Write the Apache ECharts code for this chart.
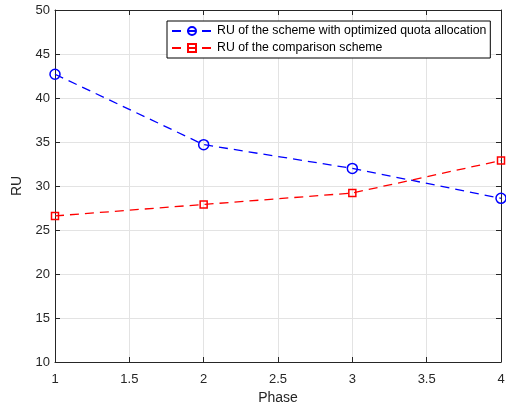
<!DOCTYPE html>
<html lang="en">
<head>
  <meta charset="utf-8">
  <style>
    html, body { margin: 0; padding: 0; background: #fff; }
    #container { width: 506px; height: 407px; }
  </style>
  <title>RU per phase</title>
</head>
<body>
  <div id="container"></div>
  <script type="text/javascript" src="https://fastly.jsdelivr.net/npm/echarts@6.0.0/dist/echarts.min.js"></script>
  <script type="text/javascript">
    // values
    var phases = [1, 2, 3, 4];
    var ruOptimized = [42.7, 34.7, 32.0, 28.6];
    var ruComparison = [26.6, 27.9, 29.2, 32.9];
    var nameOptimized = 'RU of the scheme with optimized quota allocation';
    var nameComparison = 'RU of the comparison scheme';

    var axisColor = '#262626';
    var gridColor = '#e3e3e3';
    var font = 'Helvetica, Arial, "Liberation Sans", sans-serif';

    function pairs(xs, ys) {
      return xs.map(function (x, i) { return [x, ys[i]]; });
    }

    var chart = echarts.init(document.getElementById('container'));

    var tickStyle = { show: true, inside: true, length: 5, lineStyle: { color: axisColor } };

    chart.setOption({
      animation: false,
      grid: { left: 55, right: 5, top: 10, bottom: 45, show: false, outerBoundsMode: 'none' },
      legend: {
        left: 167, top: 21,
        width: 323,
        orient: 'vertical',
        itemWidth: 40, itemHeight: 10, itemGap: 5,
        padding: [4, 4, 4, 4],
        backgroundColor: '#fff',
        borderColor: '#000', borderWidth: 1,
        textStyle: { fontFamily: font, fontSize: 12.3, color: '#000' },
        data: [nameOptimized, nameComparison]
      },
      xAxis: [{
        type: 'value', min: 1, max: 4, interval: 0.5,
        name: 'Phase', nameLocation: 'middle', nameGap: 28,
        nameTextStyle: { fontFamily: font, fontSize: 14, color: axisColor },
        axisLine: { show: true, lineStyle: { color: axisColor } },
        axisTick: tickStyle,
        axisLabel: { fontFamily: font, fontSize: 13, color: axisColor, margin: 11 },
        splitLine: { show: true, lineStyle: { color: gridColor } }
      }, {
        type: 'value', min: 1, max: 4, interval: 0.5, position: 'top',
        axisLine: { show: true, onZero: false, lineStyle: { color: axisColor } },
        axisTick: tickStyle, axisLabel: { show: false }, splitLine: { show: false }
      }],
      yAxis: [{
        type: 'value', min: 10, max: 50, interval: 5,
        name: 'RU', nameLocation: 'middle', nameGap: 26,
        nameTextStyle: { fontFamily: font, fontSize: 14, color: axisColor },
        axisLine: { show: true, lineStyle: { color: axisColor } },
        axisTick: tickStyle,
        axisLabel: { fontFamily: font, fontSize: 13, color: axisColor, margin: 5 },
        splitLine: { show: true, lineStyle: { color: gridColor } }
      }, {
        type: 'value', min: 10, max: 50, interval: 5, position: 'right',
        axisLine: { show: true, onZero: false, lineStyle: { color: axisColor } },
        axisTick: tickStyle, axisLabel: { show: false }, splitLine: { show: false }
      }],
      series: [{
        name: nameOptimized,
        type: 'line',
        data: pairs(phases, ruOptimized),
        symbol: 'circle', symbolSize: 10,
        color: '#0000ff',
        lineStyle: { color: '#0000ff', width: 1.3, type: [9, 6] },
        itemStyle: { color: 'rgba(0,0,0,0)', borderColor: '#0000ff', borderWidth: 1.5 }
      }, {
        name: nameComparison,
        type: 'line',
        data: pairs(phases, ruComparison),
        symbol: 'rect', symbolSize: 7,
        color: '#ff0000',
        lineStyle: { color: '#ff0000', width: 1.3, type: [9, 6] },
        itemStyle: { color: 'rgba(0,0,0,0)', borderColor: '#ff0000', borderWidth: 1.5 }
      }]
    });
  </script>
</body>
</html>
